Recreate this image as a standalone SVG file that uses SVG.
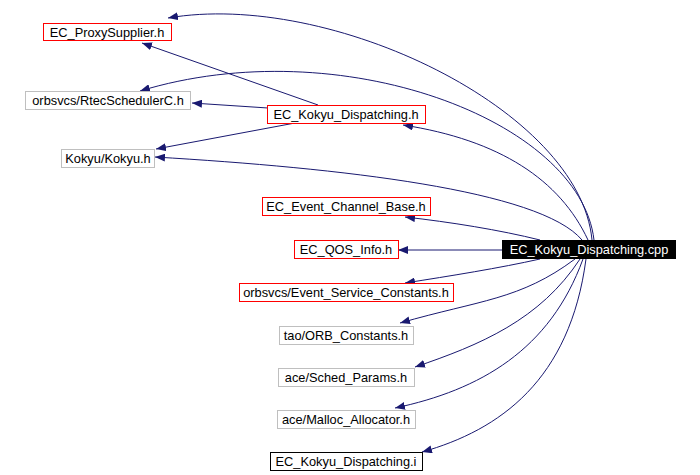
<svg xmlns="http://www.w3.org/2000/svg" width="700" height="475" viewBox="0 0 700 475">
<style>
text{font-family:"Liberation Sans",Arial,sans-serif;font-size:12.8px;text-anchor:middle}
.r{fill:#fff;stroke:#f00;stroke-width:1}
.g{fill:#fff;stroke:#bfbfbf;stroke-width:1}
.k{fill:#fff;stroke:#000;stroke-width:1}
.e{fill:none;stroke:#191970;stroke-width:1;marker-end:url(#a)}
</style>
<defs><marker id="a" viewBox="0 0 10 8" refX="10" refY="4" markerWidth="10" markerHeight="8" markerUnits="userSpaceOnUse" orient="auto"><path d="M0,0L10,4L0,8z" fill="#191970"/></marker></defs>
<rect width="700" height="475" fill="#fff"/>
<g id="edges">
<path class="e" d="M592,240C580,110 330,-10 168,18"/>
<path class="e" d="M594,240C580,120 340,30 140,91"/>
<path class="e" d="M588,240C560,180 500,140 403,125"/>
<path class="e" d="M582,240C540,190 340,168 155,157"/>
<path class="e" d="M540,240C500,230 450,222 405,217"/>
<path class="e" d="M502,250L398,250"/>
<path class="e" d="M540,259C500,268 450,276 405,283"/>
<path class="e" d="M575,259C520,300 480,300 400,323"/>
<path class="e" d="M580,259C540,320 480,345 415,367"/>
<path class="e" d="M583,259C550,350 480,390 395,408"/>
<path class="e" d="M586,259C570,380 500,430 422,452"/>
<path class="e" d="M318,105L142,43"/>
<path class="e" d="M268,108L192,103"/>
<path class="e" d="M295,123L156,149"/>
</g>
<g id="n1"><rect class="r" x="43.5" y="23.5" width="128" height="17"/><text x="107" y="36.5">EC_ProxySupplier.h</text></g>
<g id="n2"><rect class="g" x="25.5" y="91.5" width="165" height="18"/><text x="108" y="105">orbsvcs/RtecSchedulerC.h</text></g>
<g id="n3"><rect class="r" x="267.5" y="105.5" width="158" height="18"/><text x="346" y="119">EC_Kokyu_Dispatching.h</text></g>
<g id="n4"><rect class="g" x="61.5" y="149.5" width="93" height="18"/><text x="108" y="163">Kokyu/Kokyu.h</text></g>
<g id="n5"><rect class="r" x="262.5" y="197.5" width="168" height="18"/><text x="346" y="211">EC_Event_Channel_Base.h</text></g>
<g id="n6"><rect class="r" x="294.5" y="240.5" width="104" height="18"/><text x="346" y="254">EC_QOS_Info.h</text></g>
<g id="n7"><rect x="502" y="240" width="174" height="19" fill="#000"/><text x="589" y="254" fill="#fff">EC_Kokyu_Dispatching.cpp</text></g>
<g id="n8"><rect class="r" x="239.5" y="283.5" width="214" height="18"/><text x="346" y="297">orbsvcs/Event_Service_Constants.h</text></g>
<g id="n9"><rect class="g" x="279.5" y="326.5" width="134" height="18"/><text x="346" y="340">tao/ORB_Constants.h</text></g>
<g id="n10"><rect class="g" x="278.5" y="368.5" width="136" height="18"/><text x="346" y="382">ace/Sched_Params.h</text></g>
<g id="n11"><rect class="g" x="277.5" y="410.5" width="138" height="18"/><text x="346" y="424">ace/Malloc_Allocator.h</text></g>
<g id="n12"><rect class="k" x="270.5" y="452.5" width="152" height="18"/><text x="346" y="466">EC_Kokyu_Dispatching.i</text></g>
</svg>
